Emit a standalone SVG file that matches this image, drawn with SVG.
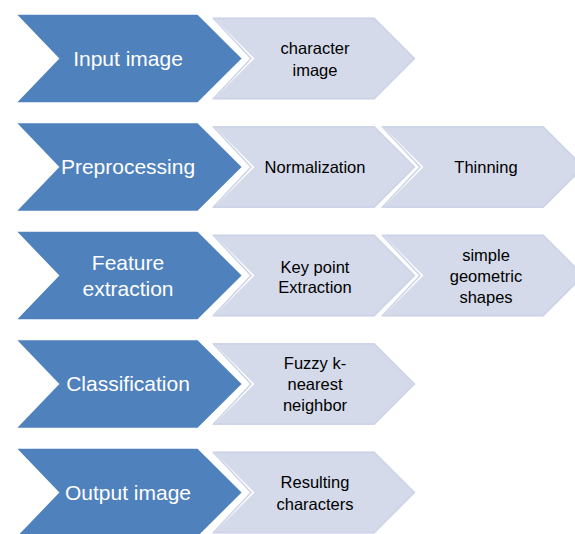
<svg xmlns="http://www.w3.org/2000/svg" xmlns:xlink="http://www.w3.org/1999/xlink" width="575" height="534" viewBox="0 0 575 534">
  <style>
    .main { fill: #4f81bd; stroke: #ffffff; stroke-width: 2; stroke-linejoin: miter; }
    .sub { fill: #d4dae9; stroke: #ffffff; stroke-width: 2; stroke-linejoin: miter; }
    .subedge { fill: none; stroke: #cdd4e7; stroke-width: 1.5; }
    .mt { font-family: "Liberation Sans", Arial, sans-serif; font-size: 21px; fill: #ffffff; text-anchor: middle; }
    .st { font-family: "Liberation Sans", Arial, sans-serif; font-size: 16.5px; fill: #000000; text-anchor: middle; }
  </style>
  <defs>
    <!-- big step chevron, 45 degree point -->
    <path id="bigChevron" d="M0,0 H183 L228,44.75 L183,89.5 H0 L43,44.75 Z"/>
    <!-- detail chevron -->
    <path id="smallChevron" d="M0,0 H164 L206,42 L164,84 H0 L42,42 Z"/>
    <path id="smallEdge" d="M2.5,2 H163 L203,42 L163,82 H2.5 L40,42 Z"/>
  </defs>

  <rect width="575" height="534" fill="#ffffff"/>

  <!-- Row 1 -->
  <g id="input-detail">
    <use xlink:href="#smallChevron" class="sub" x="211" y="16.5"/>
    <use xlink:href="#smallEdge" class="subedge" x="211" y="16.5"/>
    <text class="st" x="315" y="53.5">character</text>
    <text class="st" x="315" y="75.5">image</text>
  </g>
  <g id="input-image">
    <use xlink:href="#bigChevron" class="main" x="15" y="13.75"/>
    <text class="mt" x="128" y="65.5">Input image</text>
  </g>

  <!-- Row 2 -->
  <g id="normalization">
    <use xlink:href="#smallChevron" class="sub" x="211" y="125"/>
    <use xlink:href="#smallEdge" class="subedge" x="211" y="125"/>
    <text class="st" x="315" y="172.5">Normalization</text>
  </g>
  <g id="thinning">
    <use xlink:href="#smallChevron" class="sub" x="380" y="125"/>
    <use xlink:href="#smallEdge" class="subedge" x="380" y="125"/>
    <text class="st" x="486" y="172.5">Thinning</text>
  </g>
  <g id="preprocessing">
    <use xlink:href="#bigChevron" class="main" x="15" y="122.25"/>
    <text class="mt" x="128" y="174">Preprocessing</text>
  </g>

  <!-- Row 3 -->
  <g id="key-point">
    <use xlink:href="#smallChevron" class="sub" x="211" y="233.5"/>
    <use xlink:href="#smallEdge" class="subedge" x="211" y="233.5"/>
    <text class="st" x="315" y="272.5">Key point</text>
    <text class="st" x="315" y="292.5">Extraction</text>
  </g>
  <g id="geometric-shapes">
    <use xlink:href="#smallChevron" class="sub" x="380" y="233.5"/>
    <use xlink:href="#smallEdge" class="subedge" x="380" y="233.5"/>
    <text class="st" x="486" y="260.5">simple</text>
    <text class="st" x="486" y="281.5">geometric</text>
    <text class="st" x="486" y="302.5">shapes</text>
  </g>
  <g id="feature-extraction">
    <use xlink:href="#bigChevron" class="main" x="15" y="230.75"/>
    <text class="mt" x="128" y="270">Feature</text>
    <text class="mt" x="128" y="296">extraction</text>
  </g>

  <!-- Row 4 -->
  <g id="fuzzy-knn">
    <use xlink:href="#smallChevron" class="sub" x="211" y="342"/>
    <use xlink:href="#smallEdge" class="subedge" x="211" y="342"/>
    <text class="st" x="315" y="368.5">Fuzzy k-</text>
    <text class="st" x="315" y="389.5">nearest</text>
    <text class="st" x="315" y="410.5">neighbor</text>
  </g>
  <g id="classification">
    <use xlink:href="#bigChevron" class="main" x="15" y="339.25"/>
    <text class="mt" x="128" y="391">Classification</text>
  </g>

  <!-- Row 5 -->
  <g id="resulting-characters">
    <use xlink:href="#smallChevron" class="sub" x="211" y="450.5"/>
    <use xlink:href="#smallEdge" class="subedge" x="211" y="450.5"/>
    <text class="st" x="315" y="487.5">Resulting</text>
    <text class="st" x="315" y="509.5">characters</text>
  </g>
  <g id="output-image">
    <use xlink:href="#bigChevron" class="main" x="15" y="447.75"/>
    <text class="mt" x="128" y="499.5">Output image</text>
  </g>
</svg>
